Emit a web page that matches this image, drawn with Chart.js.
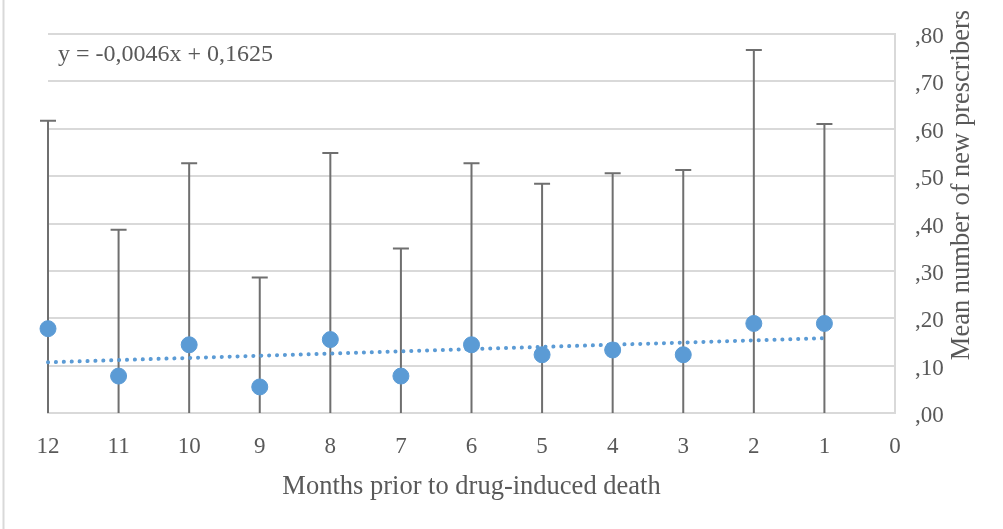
<!DOCTYPE html>
<html>
<head>
<meta charset="utf-8">
<script src="https://cdn.jsdelivr.net/npm/chart.js@4/dist/chart.umd.min.js"></script>
<style>
  html, body { margin: 0; padding: 0; background: #fff; }
  #wrap { width: 1003px; height: 529px; }
</style>
</head>
<body>
<div id="wrap"><canvas id="chart" width="1003" height="529"></canvas></div>
<script>
// months prior to death, mean new prescribers, and the tops of the error bars
const months = [12, 11, 10, 9, 8, 7, 6, 5, 4, 3, 2, 1];
const means = [0.178, 0.078, 0.144, 0.055, 0.155, 0.078, 0.144, 0.123, 0.133, 0.123, 0.189, 0.189];
const errTops = [0.617, 0.387, 0.527, 0.286, 0.549, 0.347, 0.527, 0.484, 0.506, 0.513, 0.766, 0.610];

// linear trendline ends
const trendMonths = [12, 1];
const trendValues = [0.107, 0.158];
const trendLabel = "y = -0,0046x + 0,1625";

const xTitle = "Months prior to drug-induced death";
const yTitle = "Mean number of new prescribers";

const textColor = "#595959";
const gridColor = "#d9d9d9";
const serif = "'Liberation Serif', 'Times New Roman', serif";

const points = months.map((m, i) => ({ x: m, y: means[i] }));
const trend = trendMonths.map((m, i) => ({ x: m, y: trendValues[i] }));

// vertical error bars with caps, behind the markers
const errorBars = {
  id: "errorBars",
  beforeDatasetsDraw(chart) {
    const { ctx, chartArea, scales } = chart;
    ctx.save();
    ctx.beginPath();
    ctx.rect(chartArea.left - 10, chartArea.top - 10, chartArea.width + 20, chartArea.height + 10);
    ctx.clip();
    ctx.strokeStyle = "#6f6f6f";
    ctx.lineWidth = 2;
    months.forEach((m, i) => {
      const half = errTops[i] - means[i];
      const x = scales.x.getPixelForValue(m);
      const yTop = scales.y.getPixelForValue(means[i] + half);
      const yBot = scales.y.getPixelForValue(Math.max(0, means[i] - half));
      ctx.beginPath();
      ctx.moveTo(x, yBot);
      ctx.lineTo(x, yTop);
      ctx.moveTo(x - 8, yTop);
      ctx.lineTo(x + 8, yTop);
      ctx.stroke();
    });
    ctx.restore();
  }
};

// trend equation, rotated y title and the outer frame line
const extras = {
  id: "extras",
  afterDraw(chart) {
    const { ctx } = chart;
    ctx.save();
    ctx.strokeStyle = gridColor;
    ctx.lineWidth = 2;
    ctx.beginPath();
    ctx.moveTo(3.5, 0);
    ctx.lineTo(3.5, 529);
    ctx.stroke();

    ctx.fillStyle = textColor;
    ctx.font = "24px " + serif;
    ctx.textAlign = "left";
    ctx.textBaseline = "alphabetic";
    ctx.fillText(trendLabel, 58, 61);

    ctx.translate(962, 185);
    ctx.rotate(-Math.PI / 2);
    ctx.font = "26.5px " + serif;
    ctx.textAlign = "center";
    ctx.textBaseline = "middle";
    ctx.fillText(yTitle, 0, 0);
    ctx.restore();
  }
};

new Chart(document.getElementById("chart"), {
  type: "scatter",
  data: {
    datasets: [
      {
        label: "Mean",
        data: points,
        backgroundColor: "#5b9bd5",
        borderColor: "#5b9bd5",
        pointRadius: 8,
        pointHoverRadius: 8,
        showLine: false,
        clip: false
      },
      {
        label: "Linear trend",
        type: "line",
        data: trend,
        borderColor: "#5b9bd5",
        borderWidth: 4,
        borderDash: [0.1, 7.8],
        borderCapStyle: "round",
        pointRadius: 0,
        fill: false,
        clip: false
      }
    ]
  },
  options: {
    responsive: false,
    animation: false,
    layout: { padding: { left: 48, top: 34, right: 0, bottom: 0 } },
    plugins: {
      legend: { display: false },
      tooltip: { enabled: false }
    },
    scales: {
      x: {
        type: "linear",
        reverse: true,
        min: 0,
        max: 12,
        afterFit(scale) { scale.height = 116; },
        grid: { display: false, drawTicks: false },
        border: { display: true, color: gridColor, width: 2 },
        ticks: {
          stepSize: 1,
          padding: 20,
          color: textColor,
          font: { family: serif, size: 23 }
        },
        title: {
          display: true,
          text: xTitle,
          color: textColor,
          font: { family: serif, size: 26.5 },
          padding: { top: 4, bottom: 26 }
        }
      },
      y: {
        position: "right",
        min: 0,
        max: 0.8,
        afterFit(scale) { scale.width = 108; },
        grid: { color: gridColor, lineWidth: 2, drawTicks: false },
        border: { display: true, color: gridColor, width: 2 },
        ticks: {
          stepSize: 0.1,
          padding: 20,
          labelOffset: 3,
          color: textColor,
          font: { family: serif, size: 23 },
          callback: v => "," + v.toFixed(2).split(".")[1]
        }
      }
    }
  },
  plugins: [errorBars, extras]
});
</script>
</body>
</html>
